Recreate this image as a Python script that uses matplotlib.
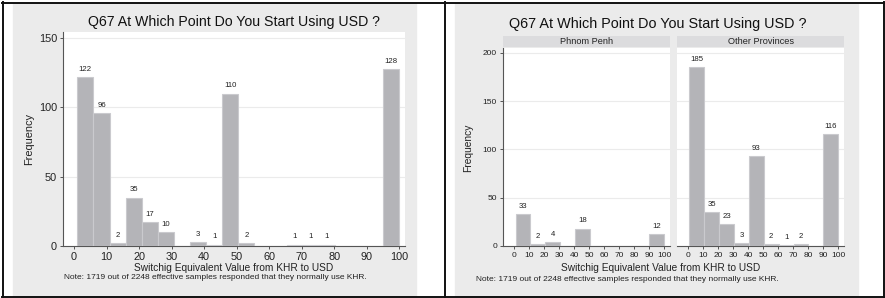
import numpy as np
import matplotlib
matplotlib.use("Agg")
import matplotlib.pyplot as plt
from matplotlib.patches import Rectangle
from matplotlib.lines import Line2D

plt.rcParams["font.family"] = ["Liberation Sans", "DejaVu Sans"]

# histogram counts (empty bins are 0)
all_counts = [122, 96, 2, 35, 17, 10, 0, 3, 1, 110, 2, 0, 0, 1, 1, 1, 0, 0, 0, 128]
pp_counts = [33, 2, 4, 0, 18, 0, 0, 0, 0, 12]
op_counts = [185, 35, 23, 3, 93, 2, 1, 2, 0, 116]
facet_names = ["Phnom Penh", "Other Provinces"]
x_ticks = list(range(0, 101, 10))
title = "Q67 At Which Point Do You Start Using USD ?"
xlabel = "Switchig Equivalent Value from KHR to USD"
note = "Note: 1719 out of 2248 effective samples responded that they normally use KHR."
val_min, val_max = 1, 100

W, H = 885, 298
BG = "#ebebeb"
STRIP = "#dcdcde"
BAR = "#b4b4b8"
EDGE = "#cacace"
AXC = "#555555"
TXT = "#222222"


def box(x0, y0, x1, y1):
    return [x0 / W, 1 - y1 / H, (x1 - x0) / W, (y1 - y0) / H]


def ftext(x, y, s, **kw):
    fig.text(x / W, 1 - y / H, s, transform=fig.transFigure, **kw)


def hist(ax, counts, ylim, yticks, show_y=True):
    edges = np.linspace(val_min, val_max, len(counts) + 1)
    width = edges[1] - edges[0]
    ax.bar(edges[:-1], counts, width=width, align="edge", color=BAR,
           edgecolor=EDGE, linewidth=0.8, zorder=3)
    for e, c in zip(edges[:-1], counts):
        if c > 0:
            ax.annotate(str(c), (e + width / 2, c), xytext=(0, 3),
                        textcoords="offset points", ha="center", va="bottom",
                        fontsize=5.6, color=TXT)
    ax.set_ylim(*ylim)
    ax.set_facecolor("white")
    ax.set_xticks(x_ticks)
    ax.set_yticks(yticks)
    for t in yticks[1:]:
        ax.axhline(t, color="#ebebeb", lw=0.8, zorder=1)
    for s in ["top", "right"]:
        ax.spines[s].set_visible(False)
    ax.spines["bottom"].set_color(AXC)
    ax.spines["bottom"].set_linewidth(0.8)
    ax.spines["left"].set_color(AXC)
    ax.spines["left"].set_linewidth(0.8)
    ax.tick_params(colors=AXC, labelcolor=TXT, length=2.5, width=0.7)
    if not show_y:
        ax.spines["left"].set_visible(False)
        ax.tick_params(axis="y", left=False, labelleft=False)


fig = plt.figure(figsize=(W / 100, H / 100), dpi=100)
fig.patch.set_facecolor("white")

# grey chart backgrounds
for x0, x1 in [(13, 416), (455, 858)]:
    fig.patches.append(Rectangle((x0 / W, 1 - 296 / H), (x1 - x0) / W, 293 / H,
                                 transform=fig.transFigure, color=BG, zorder=-10))

# table borders
for (x0, y0, x1, y1) in [(2, 2.5, 885, 2.5), (2, 296.5, 885, 296.5),
                         (2.5, 2, 2.5, 297), (445, 2, 445, 297), (883.5, 2, 883.5, 297)]:
    fig.lines.append(Line2D([x0 / W, x1 / W], [1 - y0 / H, 1 - y1 / H],
                            transform=fig.transFigure, color="#111111", lw=1.4,
                            zorder=10))

# left chart: all respondents
ax = fig.add_axes(box(63.3, 31.7, 405, 246))
hist(ax, all_counts, (0, 154.7), [0, 50, 100, 150])
ax.set_xlim(-3.3, 101.7)
ax.tick_params(axis="x", labelsize=7.8, pad=2)
ax.tick_params(axis="y", labelsize=7.8, pad=2)
ftext(234, 22, title, ha="center", va="center", fontsize=10.15, color="#111111")
ftext(234, 267.7, xlabel, ha="center", va="center", fontsize=7.3, color=TXT)
ftext(64, 277.7, note, ha="left", va="center", fontsize=6.05, color=TXT)
ftext(29, 139, "Frequency", ha="center", va="center", rotation=90,
      fontsize=7.9, color=TXT)

# right chart: by region
facets = [(503.3, 670, pp_counts, True), (677, 844, op_counts, False)]
for (x0, x1, counts, show_y), name in zip(facets, facet_names):
    ax = fig.add_axes(box(x0, 47.7, x1, 246))
    hist(ax, counts, (0, 205.2), [0, 50, 100, 150, 200], show_y)
    ax.set_xlim(-7.2, 103.8)
    ax.tick_params(axis="x", labelsize=6.0, pad=2)
    ax.tick_params(axis="y", labelsize=6.0, pad=2)
    strip = fig.add_axes(box(x0, 36, x1, 47.2))
    strip.set_facecolor(STRIP)
    strip.set_xticks([])
    strip.set_yticks([])
    for s in strip.spines.values():
        s.set_visible(False)
    strip.text(0.5, 0.5, name, ha="center", va="center", fontsize=6.6,
               color=TXT, transform=strip.transAxes)

ftext(658, 24.3, title, ha="center", va="center", fontsize=10.35, color="#111111")
ftext(661, 268.3, xlabel, ha="center", va="center", fontsize=7.3, color=TXT)
ftext(476, 279.3, note, ha="left", va="center", fontsize=6.05, color=TXT)
ftext(468, 147.5, "Frequency", ha="center", va="center", rotation=90,
      fontsize=7.4, color=TXT)

fig.savefig("out.png", dpi=100, facecolor="white")
